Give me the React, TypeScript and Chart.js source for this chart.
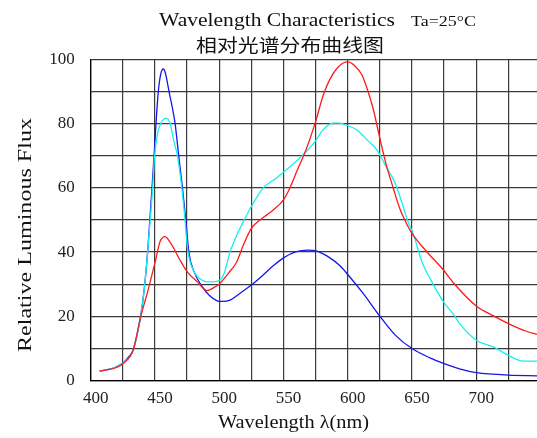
import { useEffect, useRef } from "react";
import { Chart, registerables } from "chart.js";

Chart.register(...registerables);

// Wavelength (nm) and relative luminous flux (%)
const blueNm = [407, 413, 420, 426, 430, 433, 436, 439, 442, 444.3, 446, 447.7, 449.3, 450.8, 452.6, 454.5, 456.4, 458, 461, 465.7, 468.5, 471.4, 474, 476.5, 480.4, 486.8, 492, 498.4, 502, 508.5, 516, 525, 534, 542, 550, 560, 569, 576, 585, 594, 600, 612, 625, 637, 650, 664, 675, 687, 700, 713, 725, 747.3];
const blueFlux = [2.9, 3.3, 4.2, 5.7, 7.5, 9.4, 14, 20.3, 29.7, 40, 50, 60, 70, 80, 90, 95.5, 97.1, 96, 90, 80, 70, 60, 50, 39.6, 33.9, 29.2, 26.6, 24.8, 24.6, 25, 27.1, 29.7, 32.8, 35.7, 38.2, 40.1, 40.6, 40.3, 38.5, 35.7, 33, 27.1, 20, 14.1, 9.9, 7, 5.2, 3.6, 2.4, 1.9, 1.6, 1.4];

const cyanNm = [407, 413, 420, 426, 433, 439, 442, 444.3, 446.3, 448.2, 449.7, 452, 455, 458.8, 461.9, 464.5, 467.5, 470.9, 473.4, 475.3, 480.4, 485.6, 490.7, 497, 503.3, 508.5, 513.7, 518.8, 525, 534.3, 544.6, 552.3, 560, 567.8, 575, 580.7, 588.4, 593.6, 598.2, 607.2, 615, 622.7, 629.1, 636.9, 642, 646.4, 651.3, 657.7, 664, 674.5, 682.7, 687.4, 700, 713.4, 725, 736.6, 747.3];
const cyanFlux = [2.9, 3.3, 4.2, 5.7, 9.4, 20.3, 29.7, 40, 50, 60, 70, 77, 80.5, 81.8, 80, 75, 70, 60, 50, 41.1, 33.9, 31.5, 30.7, 30.8, 32.8, 40.1, 45.3, 49.5, 54.2, 60, 63.1, 65.7, 68.3, 71.4, 74.7, 78.1, 80.2, 80.2, 79.7, 78.1, 75, 71.9, 67.2, 61.5, 55.7, 50, 45.3, 37, 31.8, 24.5, 20.3, 17.5, 12.5, 10.4, 7.8, 6, 6];

const redNm = [407, 413, 420, 426, 433, 439, 444.3, 450.8, 453.9, 457.7, 462.4, 468.8, 475, 483, 490.5, 497, 500, 507, 513.7, 518.8, 525, 531.7, 537, 542, 550, 555, 560.3, 568, 575, 581, 586, 593, 600, 606, 611, 615, 620, 625, 630, 635.4, 640.5, 644.4, 650, 661.6, 674.5, 682.7, 700, 713.4, 725, 739, 747.3];
const redFlux = [2.9, 3.3, 4.0, 5.5, 9.4, 20, 27.6, 38, 43.2, 44.8, 42.7, 38, 33.9, 30.7, 28, 29.2, 30, 33.3, 37, 42.2, 47.4, 50, 51.6, 53.1, 56.3, 60, 65.1, 72.4, 80.7, 89, 93.8, 97.9, 99.3, 97.9, 95.3, 91.1, 84.4, 75.5, 67.2, 60, 53.6, 50, 45.8, 40.1, 34.4, 30.2, 23.2, 20.1, 17.7, 15.3, 14.3];

const xTickValues = [400, 425, 450, 475, 500, 525, 550, 575, 600, 625, 650, 675, 700, 725];
const xMin = 400;
const xMax = 747.3;
const yMin = 0;
const yMax = 100;

const titleMain = "Wavelength Characteristics";
const titleTa = "Ta=25°C";
const titleCn = "相对光谱分布曲线图";
const xTitle = "Wavelength λ(nm)";
const yTitle = "Relative Luminous Flux";

const toPoints = (xs: number[], ys: number[]) => xs.map((x, i) => ({ x, y: ys[i] }));

const SERIF = "'Liberation Serif', 'Times New Roman', serif";

function drawFitted(
  ctx: CanvasRenderingContext2D,
  text: string,
  font: string,
  x: number,
  y: number,
  width: number,
  rotate = 0,
  align: CanvasTextAlign = "left",
  baseline: CanvasTextBaseline = "alphabetic"
) {
  ctx.save();
  ctx.font = font;
  ctx.fillStyle = "#111";
  ctx.textAlign = align;
  ctx.textBaseline = baseline;
  const w = ctx.measureText(text).width;
  ctx.translate(x, y);
  if (rotate) ctx.rotate(rotate);
  ctx.scale(width / w, 1);
  ctx.fillText(text, 0, 0);
  ctx.restore();
}

const titlePlugin = {
  id: "titles",
  afterDraw(chart: any) {
    const ctx = chart.ctx as CanvasRenderingContext2D;
    drawFitted(ctx, titleMain, `19px ${SERIF}`, 159, 26, 236);
    drawFitted(ctx, titleTa, `15px ${SERIF}`, 411, 26, 65);
    drawFitted(ctx, titleCn, `18px 'Noto Sans CJK SC', sans-serif`, 196, 45, 188, 0, "left", "middle");
    drawFitted(ctx, xTitle, `19px ${SERIF}`, 218, 428, 151);
    drawFitted(ctx, yTitle, `19px ${SERIF}`, 26, 235, 234, -Math.PI / 2, "center", "middle");
  },
};

export default function App() {
  const ref = useRef<HTMLCanvasElement | null>(null);

  useEffect(() => {
    if (!ref.current) return;
    const common = {
      borderWidth: 1.3,
      pointRadius: 0,
      fill: false,
      cubicInterpolationMode: "monotone" as const,
    };
    const chart = new Chart(ref.current, {
      type: "line",
      data: {
        datasets: [
          { ...common, label: "Red", data: toPoints(redNm, redFlux), borderColor: "#ff1a1a" },
          { ...common, label: "Cyan", data: toPoints(cyanNm, cyanFlux), borderColor: "#14f0f0" },
          { ...common, label: "Blue", data: toPoints(blueNm, blueFlux), borderColor: "#1515ee" },
        ],
      },
      options: {
        animation: false,
        responsive: false,
        events: [],
        layout: { padding: { top: 59.7, right: 0, bottom: 0, left: 0 } },
        plugins: { legend: { display: false }, tooltip: { enabled: false }, title: { display: false } },
        scales: {
          x: {
            type: "linear",
            min: xMin,
            max: xMax,
            afterBuildTicks: (axis: any) => {
              axis.ticks = xTickValues.map((value) => ({ value }));
            },
            afterFit: (scale: any) => {
              scale.height = 438 - 380.3;
            },
            grid: { color: "#3a3a3a", lineWidth: 1.2, drawTicks: false },
            border: { display: true, color: "#000", width: 1.3 },
            ticks: {
              autoSkip: false,
              maxRotation: 0,
              padding: 8,
              labelOffset: 5,
              color: "#222",
              font: { family: SERIF, size: 17 },
              callback: (v: any) => (Number(v) % 50 === 0 ? String(v) : ""),
            },
          },
          y: {
            type: "linear",
            min: yMin,
            max: yMax,
            afterFit: (scale: any) => {
              scale.width = 90.7;
            },
            grid: { color: "#3a3a3a", lineWidth: 1.2, drawTicks: false },
            border: { display: true, color: "#000", width: 1.3 },
            ticks: {
              stepSize: 10,
              padding: 16,
              color: "#222",
              font: { family: SERIF, size: 17 },
              callback: (v: any) => (Number(v) % 20 === 0 ? String(v) : ""),
            },
          },
        },
      },
      plugins: [titlePlugin],
    });
    return () => chart.destroy();
  }, []);

  return (
    <div style={{ position: "fixed", left: 0, top: 0, width: 537, height: 438, background: "#fff" }}>
      <canvas ref={ref} width={537} height={438} style={{ display: "block" }} />
    </div>
  );
}
